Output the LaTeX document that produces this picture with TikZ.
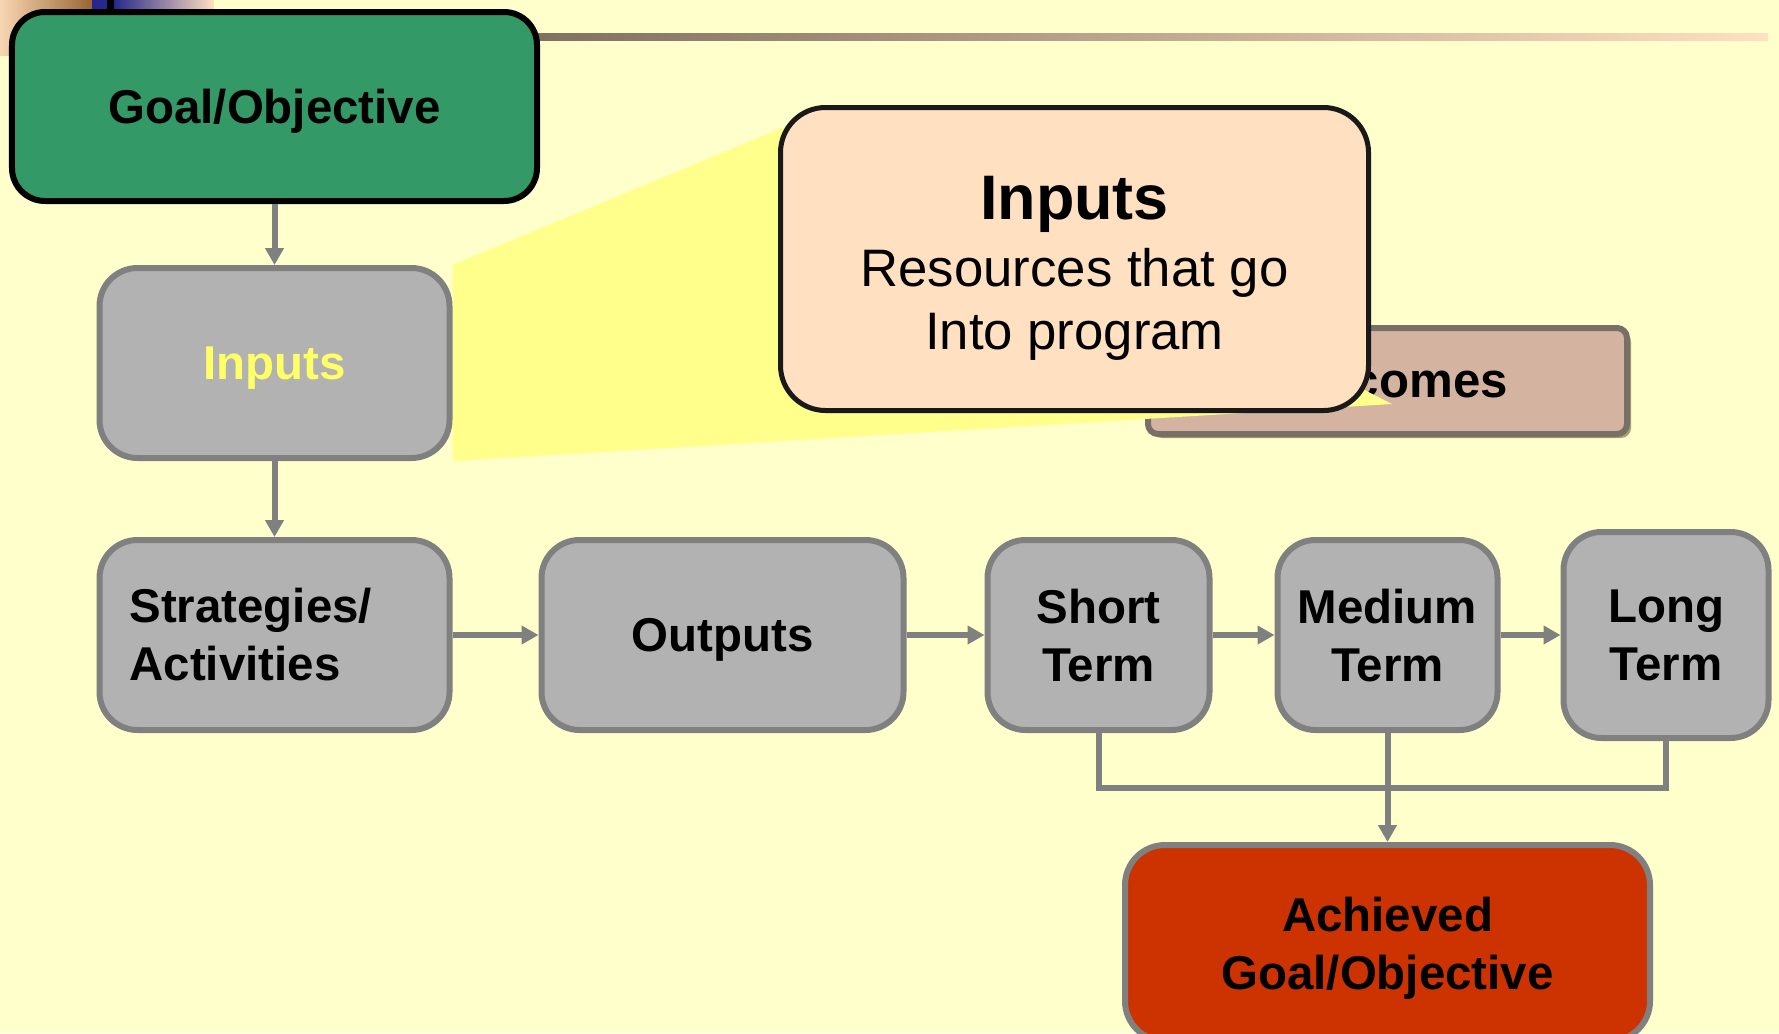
\documentclass[tikz,border=0pt]{standalone}
\usepackage{fontspec}
\setmainfont{Liberation Sans}
\usepackage{xcolor}
\usepackage{tikz}
\usetikzlibrary{positioning, shapes, arrows.meta, calc, shadows}
\pgfdeclarelayer{background}
\pgfdeclarelayer{beam}
\pgfsetlayers{background,beam,main}
\definecolor{paleyellow}{RGB}{255, 255, 204}
\definecolor{goalgreen}{RGB}{51, 153, 102}
\definecolor{stagegray}{RGB}{178, 178, 178}
\definecolor{edgegray}{RGB}{128, 128, 128}
\definecolor{achievedred}{RGB}{204, 51, 0}
\definecolor{peach}{RGB}{255, 224, 192}
\definecolor{outcometan}{RGB}{212, 180, 160}
\definecolor{outcomeedge}{RGB}{120, 112, 104}
\definecolor{beamyellow}{RGB}{255, 255, 140}
\definecolor{labelyellow}{RGB}{255, 255, 102}
\definecolor{barbrown}{RGB}{128, 112, 96}
\definecolor{titleblue}{RGB}{40, 40, 140}

\begin{document}
\begin{tikzpicture}[node distance=0.6cm, >={Triangle[length=0.17cm, width=0.18cm]}]
    \tikzstyle{stage} = [rectangle, draw=edgegray, line width=0.06cm, fill=stagegray, rounded corners=0.38cm, minimum height=1.9cm, align=center, inner sep=0pt, text depth=0pt, font=\fontsize{13.5}{16.5}\selectfont\bfseries]
    \tikzstyle{goalbox} = [rectangle, draw=black, line width=0.06cm, fill=goalgreen, rounded corners=0.33cm, minimum width=5.25cm, minimum height=1.89cm, inner sep=0pt, text depth=0pt, font=\fontsize{13.5}{16.5}\selectfont\bfseries]
    \tikzstyle{outcomebox} = [rectangle, draw=outcomeedge, line width=0.06cm, fill=outcometan, rounded corners=0.1cm, minimum width=4.79cm, minimum height=1.06cm, inner sep=0pt, font=\fontsize{14}{16}\selectfont\bfseries, drop shadow={shadow xshift=0.04cm, shadow yshift=-0.04cm, fill=olive!40!gray, opacity=0.8}]
    \tikzstyle{zoombox} = [rectangle, draw=black!90, line width=0.05cm, fill=peach, rounded corners=0.45cm, minimum width=5.88cm, minimum height=3.03cm]

    % background and slide header
    \useasboundingbox (0,0) rectangle (17.79,-10.33);
    \begin{pgfonlayer}{background}
        \fill[paleyellow] (0,0) rectangle (17.79,-10.33);
        \shade[left color=peach!90!brown, right color=brown!80!black] (0,0) rectangle (0.92,-0.55);
        \fill[titleblue] (0.92,0) rectangle (1.07,-0.3);
        \fill[black] (1.07,0) rectangle (1.14,-0.3);
        \shade[left color=titleblue, right color=peach] (1.14,0) rectangle (2.14,-0.3);
        \shade[left color=barbrown, right color=peach] (5.3,-0.33) rectangle (17.68,-0.40);
    \end{pgfonlayer}

    \node[goalbox] (goal) at (2.745,-1.065) {Goal/Objective};
    \node[stage, minimum width=3.5cm, below=0.61cm of goal, text=labelyellow] (inputs) {Inputs};
    \node[stage, minimum width=3.5cm, below=0.76cm of inputs, text width=2.9cm, text depth=, align=left] (strategies) {Strategies/\\Activities};
    \node[stage, minimum width=3.62cm, right=0.86cm of strategies] (outputs) {Outputs};
    \node[stage, minimum width=2.22cm, right=0.78cm of outputs] (short) {Short\\Term};
    \node[stage, minimum width=2.2cm, right=0.62cm of short] (medium) {Medium\\Term};
    \node[stage, minimum width=2.05cm, minimum height=2.06cm, right=0.6cm of medium] (long) {Long\\Term};
    \node[stage, fill=achievedred, minimum width=5.25cm, minimum height=1.96cm, rounded corners=0.4cm, below=1.09cm of medium] (achieved) {Achieved\\Goal/Objective};

    % zoomed-in inputs
    \begin{pgfonlayer}{background}
        \node[outcomebox, above=1.0cm of medium] (outcomes) {Outcomes};
    \end{pgfonlayer}
    \begin{pgfonlayer}{beam}
        \fill[beamyellow] (inputs.north east) -- (8.2,-1.12) -- (13.92,-4.04) -- (inputs.south east) -- cycle;
    \end{pgfonlayer}
    \node[zoombox] (zoom) at (10.745,-2.59) {};
    \node[align=center, font=\fontsize{15}{17.9}\selectfont] (zoomtext) at ([yshift=-0.093cm]zoom.center) {{\fontsize{17.9}{17.9}\selectfont\bfseries Inputs}\\[1pt]Resources that go\\Into program};

    \draw[->, line width=0.06cm, color=edgegray] (goal) -- (inputs);
    \draw[->, line width=0.06cm, color=edgegray] (inputs) -- (strategies);
    \draw[->, line width=0.06cm, color=edgegray] (strategies) -- (outputs);
    \draw[->, line width=0.06cm, color=edgegray] (outputs) -- (short);
    \draw[->, line width=0.06cm, color=edgegray] (short) -- (medium);
    \draw[->, line width=0.06cm, color=edgegray] (medium) -- (long);

    \coordinate (merge) at ($(medium.south)+(0,-0.55)$);
    \draw[line width=0.06cm, color=edgegray] (short.south) |- (merge) -| (long.south);
    \draw[->, line width=0.06cm, color=edgegray] (medium.south) -- (achieved.north);
\end{tikzpicture}
\end{document}
